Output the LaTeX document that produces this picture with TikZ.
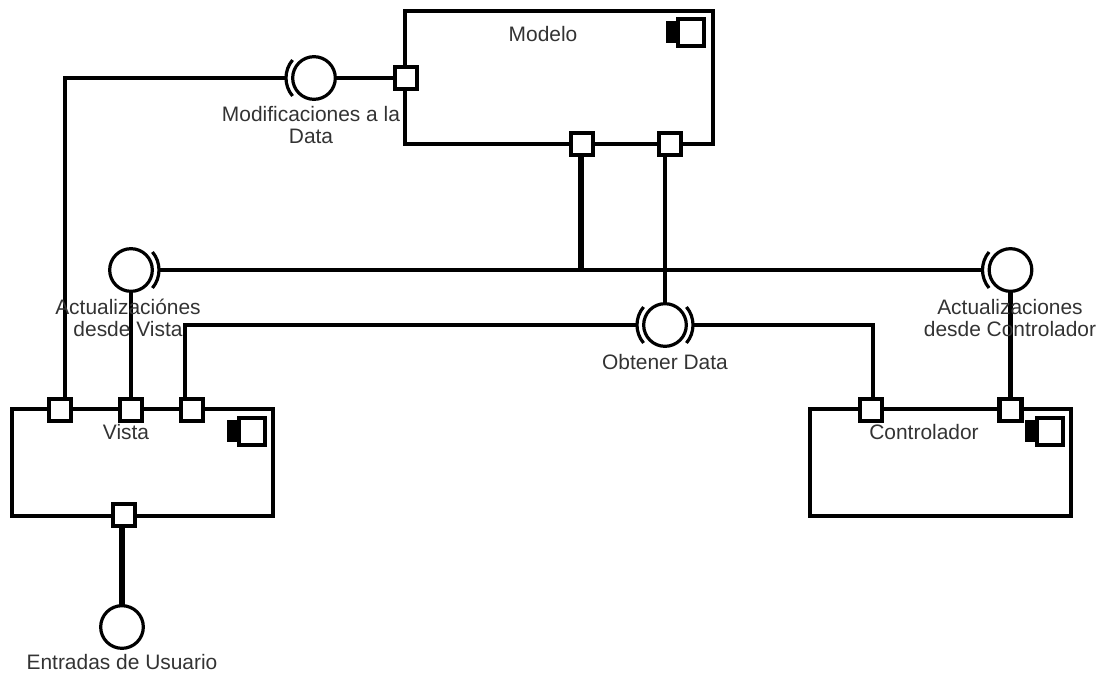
\documentclass[tikz,border=0pt]{standalone}
\usepackage{fontspec}
\setmainfont{Liberation Sans}
\usetikzlibrary{backgrounds}
\definecolor{labelgray}{gray}{0.2}
\tikzset{
  comp/.style={draw=black,line width=2.7pt,fill=white,rectangle,inner sep=0pt,outer sep=0pt},
  port/.style={draw=black,line width=3.3pt,fill=white,rectangle,minimum size=16.5pt,inner sep=0pt,outer sep=0pt},
  iface/.style={draw=black,line width=2.4pt,fill=white,circle,minimum size=32pt,inner sep=0pt,outer sep=0pt},
  lbl/.style={text=labelgray,font=\fontsize{15.7pt}{17pt}\selectfont,align=center,inner sep=0pt},
  thin wire/.style={draw=black,line width=2.5pt},
  wire/.style={draw=black,line width=3.1pt},
  thick wire/.style={draw=black,line width=3.8pt},
  socket/.style={draw=black,line width=2.4pt},
  iconbig/.style={draw=black,line width=3.4pt,fill=white,rectangle,minimum width=19.5pt,minimum height=20pt,inner sep=0pt},
  iconsmall/.style={fill=black,rectangle,minimum width=9pt,minimum height=17pt,inner sep=0pt},
}
\begin{document}
\begin{tikzpicture}[x=0.75pt,y=-0.75pt]
\useasboundingbox (0,0) rectangle (1100,674);
% components
\node[comp,minimum width=231pt,minimum height=100pt] (modelo) at (559,77.5) {};
\node[comp,minimum width=196pt,minimum height=80pt] (vista) at (142.5,462.5) {};
\node[comp,minimum width=196pt,minimum height=80pt] (ctrl) at (940.5,462.5) {};
% icons
\node[iconsmall] (im1) at (672,32) {};
\node[iconbig] (im2) at (691,32.5) {};
\node[iconsmall] (iv1) at (233,431) {};
\node[iconbig] (iv2) at (252,431.5) {};
\node[iconsmall] (ic1) at (1031,431) {};
\node[iconbig] (ic2) at (1050,431.5) {};
% ports
\node[port] (pm1) at (406,78) {};
\node[port] (pm2) at (582,144) {};
\node[port] (pm3) at (670,144) {};
\node[port] (pv1) at (60,410) {};
\node[port] (pv2) at (131,410) {};
\node[port] (pv3) at (192,410) {};
\node[port] (pv4) at (124,515) {};
\node[port] (pc1) at (871,410) {};
\node[port] (pc2) at (1010.5,410) {};
% interfaces
\node[iface] (imod) at (314,78) {};
\node[iface] (iav) at (131,270) {};
\node[iface] (iac) at (1010.5,270) {};
\node[iface] (iob) at (665,325) {};
\node[iface] (ien) at (122,627) {};
% sockets
\draw[socket] (imod.center) ++(140:21pt) arc[start angle=140,end angle=220,radius=21pt] coordinate[pos=0.5] (smod);
\draw[socket] (iav.center) ++(-40:21pt) arc[start angle=-40,end angle=40,radius=21pt] coordinate[pos=0.5] (sav);
\draw[socket] (iac.center) ++(140:21pt) arc[start angle=140,end angle=220,radius=21pt] coordinate[pos=0.5] (sac);
\draw[socket] (iob.center) ++(140:21pt) arc[start angle=140,end angle=220,radius=21pt] coordinate[pos=0.5] (sob1);
\draw[socket] (iob.center) ++(-40:21pt) arc[start angle=-40,end angle=40,radius=21pt] coordinate[pos=0.5] (sob2);
\coordinate (junction) at (581,270);
% connectors
\begin{scope}[on background layer]
  \draw[wire] (imod.east) -- (pm1.west);
  \draw[wire] ([xshift=3.75pt]pv1.north) |- (smod);
  \draw[thick wire] ([xshift=-0.75pt]pm2.south) -- (junction);
  \draw[thin wire] ([xshift=-3.75pt]pm3.south) -- (iob.north);
  \draw[wire] (sav) -- (sac);
  \draw[thin wire] (iav.south) -- (pv2.north);
  \draw[thick wire] (iac.south) -- (pc2.north);
  \draw[wire] ([xshift=-5pt]pv3.north) |- (sob1);
  \draw[wire] ([xshift=1.5pt]pc1.north) |- (sob2);
  \draw[thick wire] ([xshift=-1.5pt]pv4.south) -- (ien.north);
\end{scope}
% labels
\node[lbl] (tmod) at (543,34) {Modelo};
\node[lbl] (tvis) at (126,432) {Vista};
\node[lbl] (tctl) at (924,432) {Controlador};
\node[lbl] (t1) at (311,125) {Modificaciones a la\\Data};
\node[lbl] (t2) at (128,318) {Actualizaciónes\\desde Vista};
\node[lbl] (t3) at (1010,318) {Actualizaciones\\desde Controlador};
\node[lbl] (t4) at (665,362) {Obtener Data};
\node[lbl] (t5) at (122,662) {Entradas de Usuario};
\end{tikzpicture}
\end{document}
